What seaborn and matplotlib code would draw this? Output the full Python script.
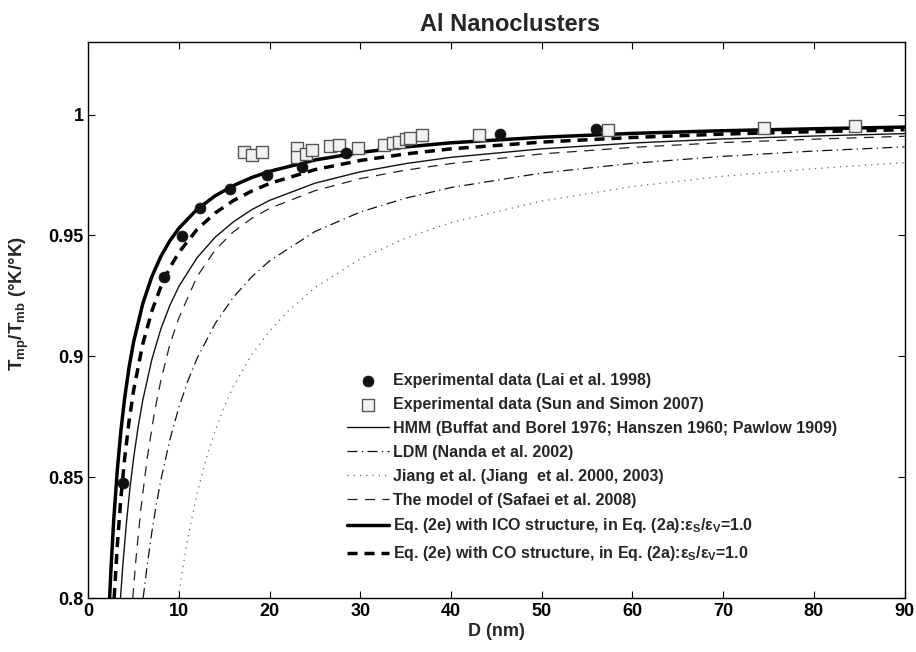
import matplotlib
matplotlib.use('Agg')
from matplotlib import pyplot as plt
import seaborn as sns

# Experimental points
lai_d = [3.86, 8.38, 10.33, 12.28, 15.62, 19.7, 23.6, 28.4, 45.4, 56.0]
lai_t = [0.8477, 0.9328, 0.9496, 0.9613, 0.969, 0.9749, 0.9782, 0.9842, 0.9918, 0.9942]

sun_d = [17.2, 18.1, 19.2, 23.0, 23.0, 24.0, 24.7, 26.6, 27.6, 29.7,
         32.6, 33.6, 34.3, 35.0, 35.5, 36.8, 43.1, 57.3, 74.5, 84.5]
sun_t = [0.9843, 0.9833, 0.9846, 0.9862, 0.9826, 0.9835, 0.9854, 0.9868, 0.9873, 0.986,
         0.9873, 0.9881, 0.9888, 0.9898, 0.9904, 0.9915, 0.9917, 0.9937, 0.9945, 0.9953]

# Model curves
ico_d = [2.35, 2.5, 2.8, 3.2, 3.6, 4, 4.5, 5, 6, 7, 8, 9, 10, 12, 14, 16, 18, 20, 25, 30, 35, 40, 50, 60, 70, 80, 90]
ico_t = [0.800, 0.812, 0.8321, 0.8531, 0.8694, 0.8825, 0.8956, 0.906, 0.9217, 0.9329, 0.9413, 0.9478, 0.953,
         0.9608, 0.9664, 0.9706, 0.9739, 0.9765, 0.9812, 0.9843, 0.9866, 0.9883, 0.9906, 0.9922, 0.9933, 0.9941, 0.9948]

co_d = [2.85, 3.2, 3.6, 4, 4.5, 5, 6, 7, 8, 9, 10, 12, 14, 16, 18, 20, 25, 30, 35, 40, 50, 60, 70, 80, 90]
co_t = [0.800, 0.8219, 0.8417, 0.8575, 0.8733, 0.886, 0.905, 0.9186, 0.9288, 0.9367, 0.943, 0.9525, 0.9593,
        0.9644, 0.9683, 0.9715, 0.9772, 0.981, 0.9837, 0.9858, 0.9886, 0.9905, 0.9919, 0.9929, 0.9937]

hmm_d = [3.55, 3.8, 4.2, 4.6, 5, 5.5, 6, 7, 8, 9, 10, 12, 14, 16, 18, 20, 25, 30, 35, 40, 50, 60, 70, 80, 90]
hmm_t = [0.800, 0.8132, 0.831, 0.8457, 0.858, 0.8709, 0.8817, 0.8986, 0.9113, 0.9211, 0.929, 0.9408, 0.9493,
         0.9556, 0.9606, 0.9645, 0.9716, 0.9763, 0.9797, 0.9823, 0.9858, 0.9882, 0.9899, 0.9911, 0.9921]

saf_d = [4.9, 5.3, 5.8, 6.5, 7.3, 8, 9, 10, 12, 14, 16, 18, 20, 25, 30, 35, 40, 50, 60, 70, 80, 90]
saf_t = [0.800, 0.818, 0.837, 0.858, 0.877, 0.890, 0.905, 0.916, 0.933, 0.944, 0.9515, 0.957, 0.9612,
         0.9685, 0.9735, 0.977, 0.9797, 0.9837, 0.9864, 0.9884, 0.9898, 0.991]

ldm_d = [6.05, 6.5, 7, 7.5, 8, 9, 10, 11, 12, 14, 16, 18, 20, 25, 30, 35, 40, 50, 60, 70, 80, 90]
ldm_t = [0.800, 0.8138, 0.8271, 0.8387, 0.8488, 0.8656, 0.879, 0.89, 0.8992, 0.9136, 0.9244, 0.9328, 0.9395,
         0.9516, 0.9597, 0.9654, 0.9698, 0.9758, 0.9798, 0.9827, 0.9849, 0.9866]

jia_d = [9.9, 10.5, 11, 12, 13, 14, 15, 16, 18, 20, 22, 25, 30, 35, 40, 50, 60, 70, 80, 90]
jia_t = [0.800, 0.8143, 0.8255, 0.8433, 0.8577, 0.8693, 0.8793, 0.8875, 0.9006, 0.9105, 0.9186, 0.9284,
         0.9403, 0.9489, 0.9553, 0.9642, 0.9702, 0.9745, 0.9776, 0.9801]

x_ticks = [0, 10, 20, 30, 40, 50, 60, 70, 80, 90]
y_ticks = [0.8, 0.85, 0.9, 0.95, 1.0]
y_tick_labels = ['0.8', '0.85', '0.9', '0.95', '1']

lbl_lai = 'Experimental data (Lai et al. 1998)'
lbl_sun = 'Experimental data (Sun and Simon 2007)'
lbl_hmm = 'HMM (Buffat and Borel 1976; Hanszen 1960; Pawlow 1909)'
lbl_ldm = 'LDM (Nanda et al. 2002)'
lbl_jia = 'Jiang et al. (Jiang  et al. 2000, 2003)'
lbl_saf = 'The model of (Safaei et al. 2008)'
lbl_ico = r'Eq. (2e) with ICO structure, in Eq. (2a):$\varepsilon_\mathbf{S}/\varepsilon_\mathbf{V}$=1.0'
lbl_co = r'Eq. (2e) with CO structure, in Eq. (2a):$\varepsilon_\mathbf{S}/\varepsilon_\mathbf{V}$=1.0'

sns.set_style('ticks')
plt.rcParams['font.family'] = ['Liberation Sans', 'DejaVu Sans']
plt.rcParams['font.weight'] = 'bold'
plt.rcParams['axes.labelweight'] = 'bold'
plt.rcParams['axes.titleweight'] = 'bold'
plt.rcParams['mathtext.fontset'] = 'custom'
plt.rcParams['mathtext.rm'] = 'Liberation Sans:bold'
plt.rcParams['mathtext.bf'] = 'Liberation Sans:bold'
plt.rcParams['mathtext.it'] = 'Liberation Sans'

fig, ax = plt.subplots(figsize=(9.16, 6.52), dpi=100)
fig.subplots_adjust(left=0.0964, right=0.9875, top=0.9356, bottom=0.0828)

# curves
curves = [
    (hmm_d, hmm_t, lbl_hmm, '#111111', 1.0, '-'),
    (ldm_d, ldm_t, lbl_ldm, '#111111', 0.9, (0, (8, 3.5, 1, 3.5))),
    (jia_d, jia_t, lbl_jia, '#666666', 0.9, (0, (1, 4))),
    (saf_d, saf_t, lbl_saf, '#222222', 0.9, (0, (8, 6))),
    (ico_d, ico_t, lbl_ico, '#000000', 2.5, '-'),
    (co_d, co_t, lbl_co, '#000000', 2.5, (0, (2.9, 2.0))),
]
for d, t, lbl, c, lw, ls in curves:
    sns.lineplot(x=d, y=t, ax=ax, color=c, linewidth=lw, linestyle=ls, label=lbl, zorder=2)

sns.scatterplot(x=lai_d, y=lai_t, ax=ax, marker='o', s=62, color='#111111',
                edgecolor='#111111', linewidth=0.5, label=lbl_lai, zorder=4)
sns.scatterplot(x=sun_d, y=sun_t, ax=ax, marker='s', s=70, color='#f2f2f2',
                edgecolor='#555555', linewidth=1.0, label=lbl_sun, zorder=3)

ax.set_xlim(0, 90)
ax.set_ylim(0.8, 1.03)
ax.set_xticks(x_ticks)
ax.set_yticks(y_ticks)
ax.set_yticklabels(y_tick_labels)
ax.tick_params(direction='in', top=True, right=True, length=5, width=0.8,
               labelsize=13, colors='black')
for s in ax.spines.values():
    s.set_visible(True)
    s.set_linewidth(1.0)
    s.set_color('black')

ax.set_title('Al Nanoclusters', fontsize=17, fontweight='bold', pad=8, x=0.517)
ax.set_xlabel('D (nm)', fontsize=13, labelpad=2)
ax.set_ylabel(r'T$_\mathbf{mp}$/T$_\mathbf{mb}$ (°K/°K)', fontsize=13.5)
ax.yaxis.set_label_coords(-0.07, 0.53)

handles, labels = ax.get_legend_handles_labels()
order = [lbl_lai, lbl_sun, lbl_hmm, lbl_ldm, lbl_jia, lbl_saf, lbl_ico, lbl_co]
hmap = dict(zip(labels, handles))
ax.legend([hmap[k] for k in order], order, loc='upper left', bbox_to_anchor=(0.317, 0.405),
          frameon=False, fontsize=11.5, handlelength=2.6, handletextpad=0.25,
          labelspacing=0.56, borderpad=0, borderaxespad=0)

plt.savefig('out.png', dpi=100)
